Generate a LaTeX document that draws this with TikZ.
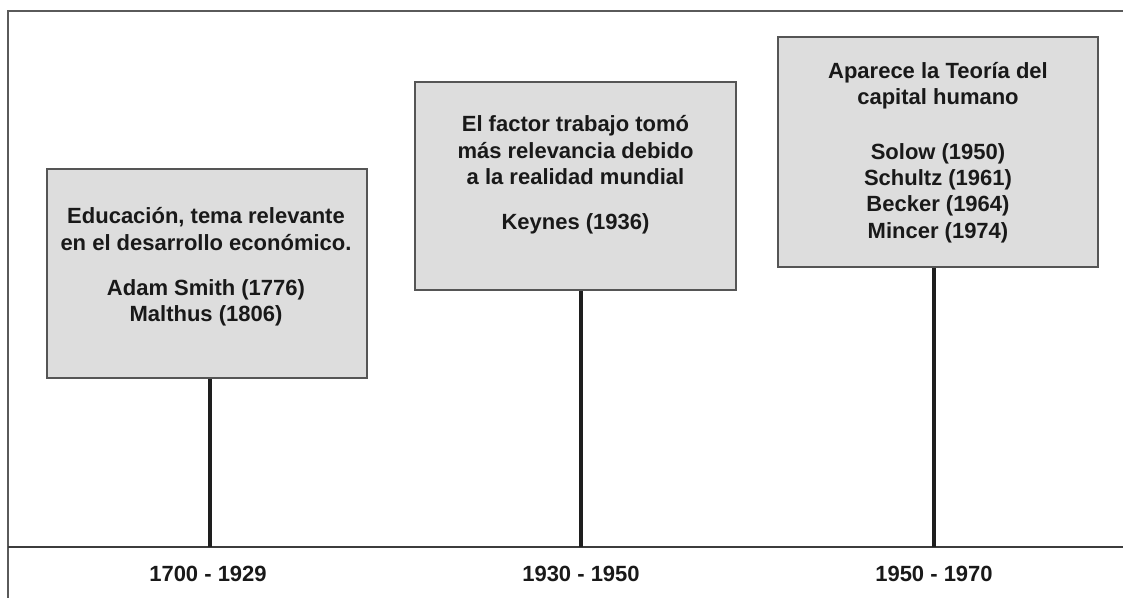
\documentclass[tikz,border=0pt]{standalone}
\usepackage{fontspec}
\setmainfont{Liberation Sans}
\definecolor{framec}{RGB}{90,90,90}
\definecolor{axisc}{RGB}{60,60,60}
\definecolor{stemc}{RGB}{30,30,30}
\definecolor{boxdraw}{RGB}{85,85,85}
\definecolor{boxfill}{RGB}{221,221,221}
\definecolor{txtc}{RGB}{25,25,25}
\begin{document}
\begin{tikzpicture}[x=0.75pt,y=-0.75pt,
  frameline/.style={draw=framec,line width=1.6pt},
  axisline/.style={draw=axisc,line width=1.5pt},
  stem/.style={draw=stemc,line width=2.4pt},
  evbox/.style={draw=boxdraw,line width=1.2pt,fill=boxfill,rectangle,inner sep=0pt},
  evtext/.style={font=\bfseries\fontsize{16.5}{19.8}\selectfont,align=center,text=txtc,inner sep=0pt},
  yrlabel/.style={font=\bfseries\fontsize{16.5}{19.8}\selectfont,text=txtc,inner sep=0pt}]
\useasboundingbox (0,0) rectangle (1123,598);
% frame
\coordinate (fbl) at (8,598);
\coordinate (ftl) at (8,11);
\coordinate (ftr) at (1123,11);
\draw[frameline] (fbl) -- (ftl) -- (ftr);
% axis
\coordinate (al) at (8,547);
\coordinate (ar) at (1123,547);
\draw[axisline] (al) -- (ar);
% boxes
\node[evbox,minimum width=240pt,minimum height=156.75pt] (b1) at (207,273.5) {};
\node[evbox,minimum width=240.75pt,minimum height=156pt] (b2) at (575.5,186) {};
\node[evbox,minimum width=240pt,minimum height=172.5pt] (b3) at (938,152) {};
% texts
\node[evtext] (t1) at (206,267) {Educación, tema relevante\\en el desarrollo económico.\\[14pt]Adam Smith (1776)\\Malthus (1806)};
\node[evtext] (t2) at (575.5,175) {El factor trabajo tomó\\más relevancia debido\\a la realidad mundial\\[14pt]Keynes (1936)};
\node[evtext] (t3) at (938,152.5) {Aparece la Teoría del\\capital humano\\[21pt]Solow (1950)\\Schultz (1961)\\Becker (1964)\\Mincer (1974)};
% stems
\coordinate (s1) at (210,547);
\coordinate (s2) at (581,547);
\coordinate (s3) at (934,547);
\draw[stem] (b1.south -| s1) -- (s1);
\draw[stem] (b2.south -| s2) -- (s2);
\draw[stem] (b3.south -| s3) -- (s3);
% year labels
\node[yrlabel] (y1) at (208,574) {1700 - 1929};
\node[yrlabel] (y2) at (581,574) {1930 - 1950};
\node[yrlabel] (y3) at (934,574) {1950 - 1970};
\end{tikzpicture}
\end{document}
